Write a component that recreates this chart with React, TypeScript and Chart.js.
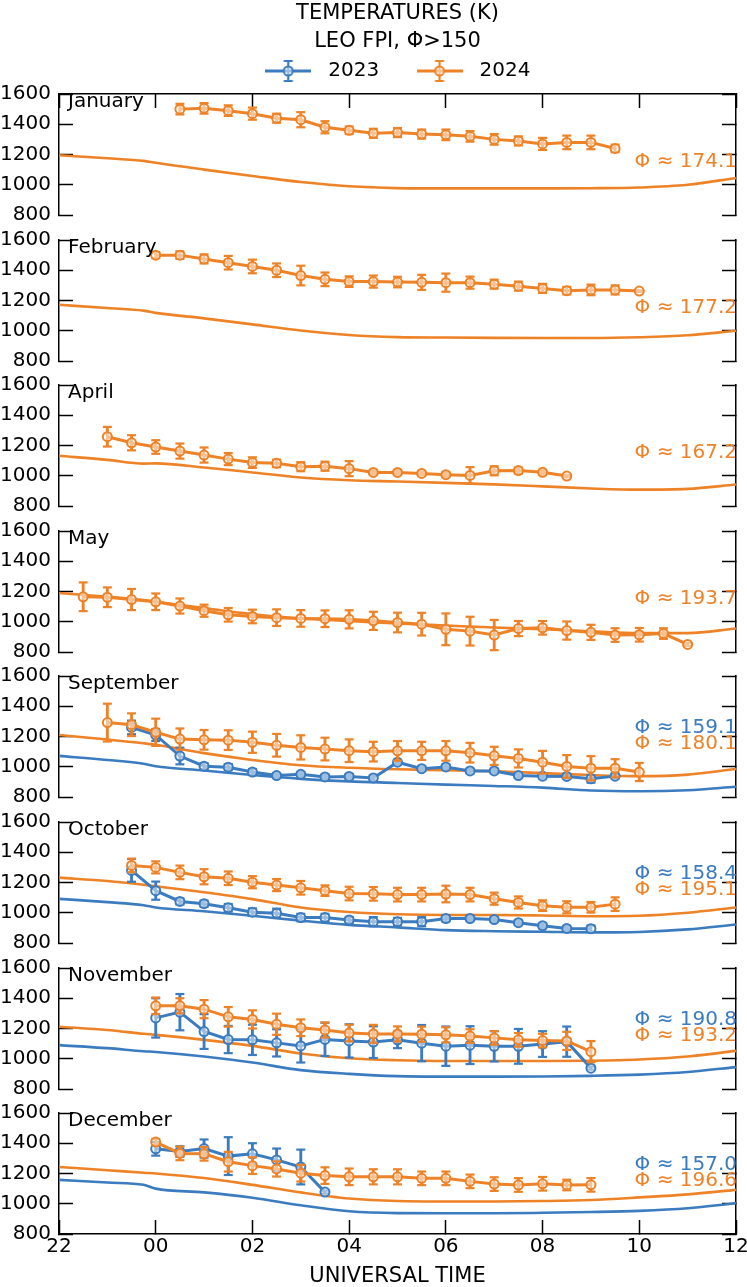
import React, { useEffect, useRef } from 'react';
import { Chart, registerables } from 'chart.js';

Chart.register(...registerables);

// ---------- colours / fonts ----------
const BLUE = '#3B7BBF';
const ORANGE = '#EE8227';
const INK = '#000000';
const FONT = '"DejaVu Sans", "Liberation Sans", sans-serif';

// ---------- axes ----------
const X_MIN = -2;
const X_MAX = 12;
const X_STEP = 2;
const X_TICK_LABELS = ['22', '00', '02', '04', '06', '08', '10', '12'];
const Y_MIN = 800;
const Y_MAX = 1600;
const Y_STEP = 200;

const TITLE_LINES = ['TEMPERATURES (K)', 'LEO FPI, Φ>150'];
const X_TITLE = 'UNIVERSAL TIME';
const LEGEND_YEARS = ['2023', '2024'];

// ---------- model curves (UT hours, -2 = 22 UT) ----------
const MODEL_UT = [-2, -1, -0.25, 0, 1, 2, 3, 4, 5, 6, 7, 8, 9, 10, 11, 12];

const JAN_MODEL_2024 = [1195, 1175, 1158, 1145, 1100, 1058, 1018, 990, 978, 976, 976, 976, 977, 982, 1000, 1045];
const FEB_MODEL_2024 = [1172, 1150, 1133, 1118, 1082, 1042, 1002, 972, 958, 955, 953, 952, 952, 957, 970, 1000];
const APR_MODEL_2024 = [1132, 1105, 1080, 1082, 1055, 1022, 988, 970, 962, 953, 943, 930, 916, 908, 913, 942];
const MAY_MODEL_2024 = [1190, 1165, 1143, 1132, 1090, 1050, 1022, 1005, 988, 975, 962, 950, 937, 925, 925, 955];
const SEP_MODEL_2024 = [1210, 1180, 1155, 1145, 1090, 1045, 1010, 993, 983, 977, 970, 958, 945, 938, 948, 985];
const SEP_MODEL_2023 = [1072, 1045, 1020, 1003, 975, 945, 920, 903, 893, 882, 873, 862, 843, 838, 845, 868];
const OCT_MODEL_2024 = [1232, 1210, 1185, 1175, 1135, 1090, 1035, 1005, 990, 985, 985, 982, 977, 980, 1000, 1035];
const OCT_MODEL_2023 = [1092, 1070, 1050, 1035, 1010, 980, 948, 920, 903, 885, 878, 874, 870, 873, 890, 922];
const NOV_MODEL_2024 = [1212, 1190, 1165, 1158, 1125, 1085, 1035, 1003, 990, 985, 985, 985, 987, 995, 1015, 1052];
const NOV_MODEL_2023 = [1090, 1070, 1050, 1045, 1015, 975, 925, 900, 885, 882, 882, 883, 887, 895, 912, 945];
const DEC_MODEL_2024 = [1243, 1222, 1205, 1200, 1170, 1125, 1075, 1035, 1018, 1015, 1015, 1018, 1025, 1042, 1062, 1092];
const DEC_MODEL_2023 = [1158, 1140, 1125, 1100, 1075, 1040, 990, 950, 938, 937, 937, 940, 945, 953, 970, 1003];

// ---------- FPI observations ----------
const JAN_UT_2024 = [0.5, 1, 1.5, 2, 2.5, 3, 3.5, 4, 4.5, 5, 5.5, 6, 6.5, 7, 7.5, 8, 8.5, 9, 9.5];
const JAN_T_2024 = [1500, 1505, 1490, 1470, 1440, 1430, 1380, 1360, 1340, 1345, 1335, 1330, 1320, 1300, 1290, 1270, 1280, 1280, 1240];
const JAN_E_2024 = [35, 35, 35, 40, 30, 50, 40, 25, 30, 30, 30, 35, 35, 35, 30, 40, 45, 45, 25];

const FEB_UT_2024 = [0, 0.5, 1, 1.5, 2, 2.5, 3, 3.5, 4, 4.5, 5, 5.5, 6, 6.5, 7, 7.5, 8, 8.5, 9, 9.5, 10];
const FEB_T_2024 = [1500, 1500, 1475, 1450, 1425, 1400, 1365, 1340, 1325, 1325, 1322, 1320, 1318, 1318, 1308, 1295, 1280, 1265, 1270, 1270, 1262];
const FEB_E_2024 = [20, 25, 30, 45, 45, 45, 65, 45, 35, 40, 35, 50, 60, 40, 30, 30, 30, 25, 35, 30, 5];

const APR_UT_2024 = [-1, -0.5, 0, 0.5, 1, 1.5, 2, 2.5, 3, 3.5, 4, 4.5, 5, 5.5, 6, 6.5, 7, 7.5, 8, 8.5];
const APR_T_2024 = [1258, 1218, 1190, 1163, 1137, 1110, 1087, 1082, 1060, 1063, 1047, 1022, 1022, 1015, 1007, 1002, 1033, 1034, 1023, 998];
const APR_E_2024 = [65, 50, 45, 50, 50, 40, 35, 25, 30, 30, 50, 15, 15, 12, 15, 55, 30, 20, 15, 8];

const MAY_UT_2024 = [-1.5, -1, -0.5, 0, 0.5, 1, 1.5, 2, 2.5, 3, 3.5, 4, 4.5, 5, 5.5, 6, 6.5, 7, 7.5, 8, 8.5, 9, 9.5, 10, 10.5, 11];
const MAY_T_2024 = [1165, 1162, 1147, 1132, 1104, 1073, 1046, 1035, 1027, 1022, 1020, 1016, 1006, 995, 984, 950, 938, 912, 955, 960, 942, 930, 912, 914, 922, 850];
const MAY_E_2024 = [95, 65, 70, 55, 50, 40, 45, 45, 55, 55, 55, 60, 60, 65, 75, 105, 95, 100, 50, 45, 60, 50, 45, 45, 35, 10];

const SEP_UT_2024 = [-1, -0.5, 0, 0.5, 1, 1.5, 2, 2.5, 3, 3.5, 4, 4.5, 5, 5.5, 6, 6.5, 7, 7.5, 8, 8.5, 9, 9.5, 10];
const SEP_T_2024 = [1292, 1278, 1228, 1183, 1178, 1176, 1162, 1142, 1128, 1117, 1106, 1100, 1105, 1105, 1105, 1093, 1072, 1055, 1030, 1002, 990, 990, 965];
const SEP_E_2024 = [125, 75, 90, 70, 65, 65, 70, 75, 80, 75, 75, 65, 65, 60, 65, 65, 60, 60, 75, 75, 80, 60, 60];

const SEP_UT_2023 = [-0.5, 0, 0.5, 1, 1.5, 2, 2.5, 3, 3.5, 4, 4.5, 5, 5.5, 6, 6.5, 7, 7.5, 8, 8.5, 9, 9.5];
const SEP_T_2023 = [1260, 1210, 1071, 1004, 997, 965, 942, 950, 933, 936, 926, 1030, 987, 999, 972, 972, 942, 938, 936, 920, 938];
const SEP_E_2023 = [45, 40, 55, 20, 20, 20, 15, 15, 15, 15, 15, 15, 15, 15, 15, 15, 15, 15, 15, 25, 15];

const OCT_UT_2024 = [-0.5, 0, 0.5, 1, 1.5, 2, 2.5, 3, 3.5, 4, 4.5, 5, 5.5, 6, 6.5, 7, 7.5, 8, 8.5, 9, 9.5];
const OCT_T_2024 = [1313, 1300, 1267, 1238, 1228, 1202, 1183, 1165, 1146, 1127, 1125, 1120, 1120, 1124, 1120, 1093, 1068, 1047, 1036, 1036, 1057];
const OCT_E_2024 = [45, 40, 45, 50, 45, 40, 40, 45, 35, 45, 45, 45, 45, 55, 45, 40, 40, 35, 40, 35, 45];

const OCT_UT_2023 = [-0.5, 0, 0.5, 1, 1.5, 2, 2.5, 3, 3.5, 4, 4.5, 5, 5.5, 6, 6.5, 7, 7.5, 8, 8.5, 9];
const OCT_T_2023 = [1280, 1146, 1075, 1060, 1033, 1004, 997, 968, 968, 952, 941, 941, 941, 962, 962, 955, 934, 914, 896, 895];
const OCT_E_2023 = [75, 60, 20, 20, 25, 25, 30, 25, 25, 20, 30, 25, 30, 20, 15, 15, 15, 15, 15, 20];

const NOV_UT_2024 = [0, 0.5, 1, 1.5, 2, 2.5, 3, 3.5, 4, 4.5, 5, 5.5, 6, 6.5, 7, 7.5, 8, 8.5, 9];
const NOV_T_2024 = [1350, 1350, 1328, 1277, 1260, 1228, 1205, 1190, 1170, 1164, 1164, 1162, 1158, 1150, 1138, 1125, 1120, 1118, 1047];
const NOV_E_2024 = [55, 50, 60, 65, 60, 70, 55, 50, 55, 60, 50, 50, 50, 45, 45, 45, 45, 60, 70];

const NOV_UT_2023 = [0, 0.5, 1, 1.5, 2, 2.5, 3, 3.5, 4, 4.5, 5, 5.5, 6, 6.5, 7, 7.5, 8, 8.5, 9];
const NOV_T_2023 = [1270, 1308, 1180, 1127, 1125, 1105, 1085, 1128, 1118, 1110, 1125, 1103, 1083, 1090, 1082, 1082, 1097, 1113, 938];
const NOV_E_2023 = [130, 120, 115, 90, 100, 90, 110, 110, 110, 105, 55, 120, 130, 125, 100, 115, 85, 100, 10];

const DEC_UT_2024 = [0, 0.5, 1, 1.5, 2, 2.5, 3, 3.5, 4, 4.5, 5, 5.5, 6, 6.5, 7, 7.5, 8, 8.5, 9];
const DEC_T_2024 = [1408, 1333, 1330, 1278, 1252, 1230, 1202, 1186, 1178, 1178, 1178, 1168, 1168, 1148, 1130, 1124, 1132, 1124, 1125];
const DEC_E_2024 = [20, 45, 45, 65, 55, 50, 55, 55, 55, 50, 50, 45, 45, 45, 45, 45, 45, 35, 45];

const DEC_UT_2023 = [0, 0.5, 1, 1.5, 2, 2.5, 3, 3.5];
const DEC_T_2023 = [1363, 1345, 1365, 1315, 1330, 1290, 1243, 1077];
const DEC_E_2023 = [45, 35, 60, 125, 70, 75, 115, 10];

// ---------- panels ----------
const MONTHS = ['January', 'February', 'April', 'May', 'September', 'October', 'November', 'December'];
const PHI_2023 = [null, null, null, null, '159.1', '158.4', '190.8', '157.0'];
const PHI_2024 = ['174.1', '177.2', '167.2', '193.7', '180.1', '195.1', '193.2', '196.6'];

type Series = { ut: number[]; t: number[]; e: number[] } | null;

const OBS_2023: Series[] = [
  null, null, null, null,
  { ut: SEP_UT_2023, t: SEP_T_2023, e: SEP_E_2023 },
  { ut: OCT_UT_2023, t: OCT_T_2023, e: OCT_E_2023 },
  { ut: NOV_UT_2023, t: NOV_T_2023, e: NOV_E_2023 },
  { ut: DEC_UT_2023, t: DEC_T_2023, e: DEC_E_2023 },
];
const OBS_2024: Series[] = [
  { ut: JAN_UT_2024, t: JAN_T_2024, e: JAN_E_2024 },
  { ut: FEB_UT_2024, t: FEB_T_2024, e: FEB_E_2024 },
  { ut: APR_UT_2024, t: APR_T_2024, e: APR_E_2024 },
  { ut: MAY_UT_2024, t: MAY_T_2024, e: MAY_E_2024 },
  { ut: SEP_UT_2024, t: SEP_T_2024, e: SEP_E_2024 },
  { ut: OCT_UT_2024, t: OCT_T_2024, e: OCT_E_2024 },
  { ut: NOV_UT_2024, t: NOV_T_2024, e: NOV_E_2024 },
  { ut: DEC_UT_2024, t: DEC_T_2024, e: DEC_E_2024 },
];
const MODEL_2023: (number[] | null)[] = [null, null, null, null, SEP_MODEL_2023, OCT_MODEL_2023, NOV_MODEL_2023, DEC_MODEL_2023];
const MODEL_2024: (number[] | null)[] = [JAN_MODEL_2024, FEB_MODEL_2024, APR_MODEL_2024, MAY_MODEL_2024, SEP_MODEL_2024, OCT_MODEL_2024, NOV_MODEL_2024, DEC_MODEL_2024];

// ---------- geometry ----------
const PAGE_W = 747;
const PAGE_H = 1287;
const FIRST_TOP = 94;
const PITCH = 145.6;
const AREA_H = 121;
const PAD = 14;
const AXIS_LEFT_W = 59;
const RIGHT_PAD = 11;
const TICK_LEN = -14;

function makeSymbol(color: string): HTMLCanvasElement {
  const c = document.createElement('canvas');
  c.width = 46;
  c.height = 24;
  const g = c.getContext('2d')!;
  g.strokeStyle = color;
  g.lineWidth = 3;
  g.beginPath();
  g.moveTo(0, 12);
  g.lineTo(46, 12);
  g.stroke();
  g.lineWidth = 2.2;
  g.beginPath();
  g.moveTo(23, 2);
  g.lineTo(23, 22);
  g.moveTo(18.5, 2);
  g.lineTo(27.5, 2);
  g.moveTo(18.5, 22);
  g.lineTo(27.5, 22);
  g.stroke();
  g.beginPath();
  g.arc(23, 12, 4.5, 0, Math.PI * 2);
  g.fillStyle = 'rgba(255,255,255,0.5)';
  g.fill();
  g.lineWidth = 2;
  g.stroke();
  return c;
}

function buildDatasets(i: number) {
  const ds: any[] = [];
  const years = [
    { obs: OBS_2023[i], model: MODEL_2023[i], color: BLUE, base: 20 },
    { obs: OBS_2024[i], model: MODEL_2024[i], color: ORANGE, base: 10 },
  ];
  for (const yr of years) {
    if (yr.model) {
      const m = yr.model;
      ds.push({
        type: 'line',
        data: MODEL_UT.map((x, k) => ({ x, y: m[k] })),
        borderColor: yr.color,
        borderWidth: 2.6,
        pointRadius: 0,
        cubicInterpolationMode: 'monotone',
        xAxisID: 'x',
        yAxisID: 'y',
        order: 100 + yr.base,
      });
    }
    if (yr.obs) {
      const o = yr.obs;
      ds.push({
        type: 'bar',
        data: o.ut.map((x, k) => ({ x, y: [o.t[k] - o.e[k], o.t[k] + o.e[k]] })),
        backgroundColor: yr.color,
        borderWidth: 0,
        barThickness: 2.2,
        grouped: false,
        xAxisID: 'x',
        yAxisID: 'y',
        order: yr.base + 2,
      });
      const caps: { x: number; y: number }[] = [];
      o.ut.forEach((x, k) => {
        caps.push({ x, y: o.t[k] - o.e[k] });
        caps.push({ x, y: o.t[k] + o.e[k] });
      });
      ds.push({
        type: 'line',
        data: caps,
        showLine: false,
        pointStyle: 'line',
        pointRadius: 4.5,
        pointBorderWidth: 2.2,
        pointBorderColor: yr.color,
        borderColor: yr.color,
        xAxisID: 'x',
        yAxisID: 'y',
        order: yr.base + 1,
      });
      ds.push({
        type: 'line',
        data: o.ut.map((x, k) => ({ x, y: o.t[k] })),
        borderColor: yr.color,
        borderWidth: 3,
        pointRadius: 4.5,
        pointBorderWidth: 2,
        pointBorderColor: yr.color,
        pointBackgroundColor: 'rgba(255,255,255,0.5)',
        tension: 0,
        xAxisID: 'x',
        yAxisID: 'y',
        order: yr.base,
      });
    }
  }
  return ds;
}

function zeroPadding(s: any) {
  s.paddingTop = 0;
  s.paddingBottom = 0;
  s.paddingLeft = 0;
  s.paddingRight = 0;
}

function Panel({ index }: { index: number }) {
  const ref = useRef<HTMLCanvasElement>(null);
  const isFirst = index === 0;
  const isLast = index === MONTHS.length - 1;
  const areaTop = Math.round(FIRST_TOP + index * PITCH);
  const canvasTop = isFirst ? 0 : areaTop - PAD;
  const canvasH = isFirst ? areaTop + AREA_H + PAD : isLast ? PAGE_H - canvasTop : AREA_H + 2 * PAD;

  useEffect(() => {
    if (!ref.current) return;
    const spineGrid = {
      display: true,
      offset: false,
      drawOnChartArea: false,
      drawTicks: true,
      tickLength: TICK_LEN,
      tickWidth: 1.5,
      tickColor: INK,
      color: INK,
    };
    const border = { display: true, color: INK, width: 1.5 };

    const textPlugin = {
      id: 'panelText',
      afterDraw(chart: any) {
        const { ctx, chartArea } = chart;
        const h = chartArea.bottom - chartArea.top;
        ctx.save();
        ctx.font = `20px ${FONT}`;
        ctx.textBaseline = 'middle';
        ctx.textAlign = 'left';
        ctx.fillStyle = INK;
        ctx.fillText(MONTHS[index], chartArea.left + 9, chartArea.top + 8);
        ctx.textAlign = 'right';
        const p23 = PHI_2023[index];
        const p24 = PHI_2024[index];
        if (p23) {
          ctx.fillStyle = BLUE;
          ctx.fillText(`Φ ≈ ${p23}`, chartArea.right + 1, chartArea.top + h * 0.425);
        }
        if (p24) {
          ctx.fillStyle = ORANGE;
          ctx.fillText(`Φ ≈ ${p24}`, chartArea.right + 1, chartArea.top + h * 0.56);
        }
        ctx.restore();
      },
    };

    const symbols = [makeSymbol(BLUE), makeSymbol(ORANGE)];

    const chart = new Chart(ref.current, {
      type: 'line',
      data: { datasets: buildDatasets(index) },
      options: {
        responsive: false,
        animation: false,
        events: [],
        layout: {
          autoPadding: false,
          padding: {
            top: isFirst ? 0 : PAD,
            bottom: isLast ? 0 : PAD,
            left: 0,
            right: RIGHT_PAD,
          },
        },
        scales: {
          x: {
            type: 'linear',
            min: X_MIN,
            max: X_MAX,
            offset: false,
            position: isFirst ? 'top' : 'bottom',
            display: isFirst || isLast,
            ticks: {
              stepSize: X_STEP,
              autoSkip: false,
              maxRotation: 0,
              display: isLast,
              padding: 15,
              color: INK,
              font: { family: FONT, size: 20 },
              callback: (v: any) => X_TICK_LABELS[Math.round((Number(v) - X_MIN) / X_STEP)] ?? '',
            },
            grid: spineGrid,
            border,
            title: {
              display: isLast,
              text: X_TITLE,
              color: INK,
              font: { family: FONT, size: 21 },
              padding: { top: 0, bottom: -2 },
            },
            afterFit: (s: any) => {
              zeroPadding(s);
              if (isFirst) s.height = 3;
              else if (isLast) s.height = PAGE_H - (areaTop + AREA_H);
            },
          },
          y: {
            type: 'linear',
            position: 'left',
            min: Y_MIN,
            max: Y_MAX,
            ticks: {
              stepSize: Y_STEP,
              autoSkip: false,
              padding: 22,
              color: INK,
              font: { family: FONT, size: 20 },
              callback: (v: any) => String(v),
            },
            grid: spineGrid,
            border,
            afterFit: (s: any) => {
              zeroPadding(s);
              s.width = AXIS_LEFT_W;
            },
          },
          y2: {
            type: 'linear',
            position: 'right',
            min: Y_MIN,
            max: Y_MAX,
            ticks: { stepSize: Y_STEP, display: false, autoSkip: false },
            grid: spineGrid,
            border,
            afterFit: (s: any) => {
              zeroPadding(s);
              s.width = 0;
            },
          },
        },
        plugins: {
          tooltip: { enabled: false },
          title: {
            display: isFirst,
            text: TITLE_LINES,
            fullSize: false,
            color: INK,
            font: { family: FONT, size: 21, weight: 'normal', lineHeight: '28px' },
            padding: { top: 0, bottom: 0 },
          },
          legend: {
            display: isFirst,
            fullSize: false,
            labels: {
              usePointStyle: true,
              pointStyleWidth: 60,
              padding: 5,
              color: INK,
              font: { family: FONT, size: 20 },
              generateLabels: () => [
                {
                  text: LEGEND_YEARS[0] + '    ',
                  pointStyle: symbols[0],
                  fillStyle: BLUE,
                  strokeStyle: BLUE,
                  lineWidth: 0,
                  hidden: false,
                  fontColor: INK,
                  datasetIndex: 0,
                },
                {
                  text: LEGEND_YEARS[1] + ' ',
                  pointStyle: symbols[1],
                  fillStyle: ORANGE,
                  strokeStyle: ORANGE,
                  lineWidth: 0,
                  hidden: false,
                  fontColor: INK,
                  datasetIndex: 1,
                },
              ],
            },
          },
        },
      } as any,
      plugins: [textPlugin],
    });
    return () => chart.destroy();
  }, [index]);

  return (
    <canvas
      ref={ref}
      width={PAGE_W}
      height={canvasH}
      style={{ position: 'absolute', left: 0, top: canvasTop, width: PAGE_W, height: canvasH }}
    />
  );
}

export default function App() {
  return (
    <div
      style={{
        position: 'absolute',
        left: 0,
        top: 0,
        width: PAGE_W,
        height: PAGE_H,
        background: '#ffffff',
        overflow: 'hidden',
      }}
    >
      {MONTHS.map((m, i) => (
        <Panel key={m} index={i} />
      ))}
    </div>
  );
}
